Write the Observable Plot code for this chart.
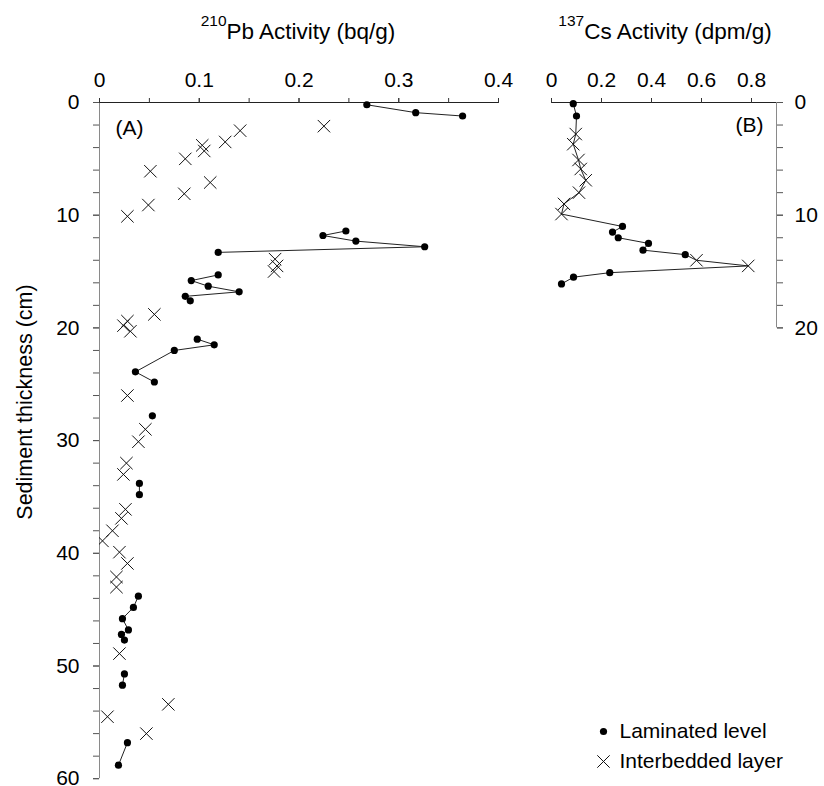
<!DOCTYPE html>
<html>
<head>
<meta charset="utf-8">
<script src="https://cdn.jsdelivr.net/npm/d3@7"></script>
<script src="https://cdn.jsdelivr.net/npm/@observablehq/plot@0.6"></script>
<style>
  html, body { margin: 0; padding: 0; background: white; }
  #wrap { position: relative; width: 824px; height: 786px; background: white;
          font-family: "Liberation Sans", Arial, sans-serif; color: black; overflow: hidden; }
  #wrap > svg { position: absolute; left: 0; top: 0; }
  .ttl { position: absolute; top: 21px; width: 400px; text-align: center; font-size: 22.5px;
         line-height: 22px; white-space: nowrap; }
  .ttl sup { font-size: 15.5px; vertical-align: baseline; position: relative; top: -13px; line-height: 0; }
  #ylab { position: absolute; left: 25px; top: 402px; font-size: 21.5px; line-height: 22px; white-space: nowrap;
          transform: translate(-50%, -50%) rotate(-90deg); }
  #legend { position: absolute; left: 589px; top: 710px; }
</style>
</head>
<body>
<div id="wrap">
  <div class="ttl" style="left:98px"><sup>210</sup>Pb Activity (bq/g)</div>
  <div class="ttl" style="left:465px"><sup>137</sup>Cs Activity (dpm/g)</div>
  <div id="ylab">Sediment thickness (cm)</div>
  <div id="legend"></div>
</div>
<script>
// ---------- Panel A: 210Pb ----------
const pbTicks = [0, 0.1, 0.2, 0.3, 0.4];
const pbMinorTicks = [0, 0.05, 0.1, 0.15, 0.2, 0.25, 0.3, 0.35, 0.4];
const depthLabelsA = [0, 10, 20, 30, 40, 50, 60];

// Laminated levels (dots, connected within each run)
const pbLamDepth = [0.2, 0.9, 1.2, 11.4, 11.8, 12.3, 12.8, 13.3, 15.3, 15.8, 16.3, 16.8, 17.2, 17.6,
                    21.0, 21.5, 22.0, 23.9, 24.8, 27.8, 33.8, 34.8, 43.8, 44.8, 45.8, 46.8, 47.2, 47.7,
                    50.7, 51.7, 56.8, 58.8];
const pbLamValue = [0.268, 0.317, 0.364, 0.247, 0.224, 0.257, 0.326, 0.119, 0.119, 0.092, 0.109, 0.140, 0.086, 0.091,
                    0.098, 0.115, 0.075, 0.036, 0.055, 0.053, 0.040, 0.040, 0.039, 0.034, 0.023, 0.029, 0.022, 0.025,
                    0.025, 0.023, 0.028, 0.019];
const pbLamGroup = [1, 1, 1, 2, 2, 2, 2, 2, 3, 3, 3, 3, 3, 3,
                    4, 4, 4, 4, 4, 5, 6, 6, 7, 7, 7, 7, 7, 7,
                    8, 8, 9, 9];

// Interbedded layers (crosses)
const pbIntDepth = [2.1, 2.5, 3.5, 3.8, 4.3, 5.0, 6.1, 7.1, 8.1, 9.1, 10.1, 13.9, 14.5, 15.0,
                    18.8, 19.4, 19.8, 20.3, 26.0, 29.0, 30.1, 32.0, 33.0, 36.1, 36.9, 38.0, 38.9,
                    39.9, 40.9, 42.1, 43.0, 48.9, 53.4, 54.5, 56.0];
const pbIntValue = [0.225, 0.141, 0.126, 0.103, 0.105, 0.086, 0.051, 0.111, 0.085, 0.049, 0.028, 0.176, 0.178, 0.175,
                    0.055, 0.028, 0.024, 0.031, 0.028, 0.046, 0.039, 0.027, 0.024, 0.026, 0.022, 0.013, 0.003,
                    0.020, 0.028, 0.017, 0.017, 0.020, 0.069, 0.008, 0.047];

// ---------- Panel B: 137Cs ----------
const csTicks = [0, 0.2, 0.4, 0.6, 0.8];
const csXMax = 0.9;
const depthLabelsB = [0, 10, 20];
const csDepth = [0.1, 1.2, 2.8, 3.7, 5.1, 5.9, 6.9, 8.0, 9.0, 9.9, 11.0, 11.5, 12.0, 12.5, 13.1, 13.5, 14.0, 14.5, 15.1, 15.5, 16.1];
const csValue = [0.087, 0.100, 0.097, 0.087, 0.108, 0.117, 0.137, 0.110, 0.050, 0.040, 0.284, 0.244, 0.267, 0.388, 0.366, 0.535, 0.580, 0.787, 0.233, 0.088, 0.040];
const csType  = ["L", "L", "I", "I", "I", "I", "I", "I", "I", "I", "L", "L", "L", "L", "L", "L", "I", "I", "L", "L", "L"];

// ---------- Legend ----------
const legendLabels = ["Laminated level", "Interbedded layer"];

const lam = pbLamDepth.map((d, i) => ({depth: d, value: pbLamValue[i], group: pbLamGroup[i]}));
const inter = pbIntDepth.map((d, i) => ({depth: d, value: pbIntValue[i]}));
const cs = csDepth.map((d, i) => ({depth: d, value: csValue[i], type: csType[i]}));

const font = {fontFamily: "'Liberation Sans', Arial, sans-serif", fontSize: "21px", background: "transparent", overflow: "visible"};
const W = 824, H = 786;
const top0 = 102, pxPerCm = 11.27;

const plotA = Plot.plot({
  width: W, height: H,
  marginLeft: 99, marginRight: W - 498, marginTop: top0, marginBottom: H - (top0 + 60 * pxPerCm),
  style: font,
  x: {domain: [0, 0.4]},
  y: {domain: [0, 60], reverse: true},
  marks: [
    Plot.ruleX([0], {stroke: "#8a8a8a"}),
    Plot.ruleY([0], {stroke: "#222"}),
    Plot.axisX({anchor: "top", ticks: pbMinorTicks, tickSize: 5, tickFormat: () => "", label: null, stroke: "#333"}),
    Plot.axisX({anchor: "top", ticks: pbTicks, tickSize: 5, tickPadding: 11, tickFormat: d => String(d), label: null, stroke: "#333"}),
    Plot.axisY({anchor: "left", ticks: d3.range(0, 61, 2), tickSize: 6, tickFormat: () => "", label: null, stroke: "#555"}),
    Plot.axisY({anchor: "left", ticks: depthLabelsA, tickSize: 6, tickPadding: 14, tickFormat: d => String(d), label: null, stroke: "#555"}),
    Plot.line(lam, {x: "value", y: "depth", z: "group", stroke: "#222", strokeWidth: 1}),
    Plot.dot(lam, {x: "value", y: "depth", r: 3.6, fill: "black"}),
    Plot.dot(inter, {x: "value", y: "depth", symbol: "times", r: 5.7, stroke: "#111", strokeWidth: 1, clip: true}),
    Plot.text(["(A)"], {frameAnchor: "top-left", dx: 16, dy: 26, textAnchor: "start", lineAnchor: "middle", fontSize: 21})
  ]
});

const plotB = Plot.plot({
  width: W, height: H,
  marginLeft: 551, marginRight: W - 776, marginTop: top0, marginBottom: H - (top0 + 20 * pxPerCm),
  style: font,
  x: {domain: [0, csXMax]},
  y: {domain: [0, 20], reverse: true},
  marks: [
    Plot.ruleX([csXMax], {stroke: "#8a8a8a"}),
    Plot.ruleY([0], {stroke: "#222"}),
    Plot.axisX({anchor: "top", ticks: csTicks, tickSize: 5, tickPadding: 11, tickFormat: d => String(d), label: null, stroke: "#333"}),
    Plot.axisY({anchor: "right", ticks: d3.range(0, 21, 2), tickSize: 6, tickFormat: () => "", label: null, stroke: "#555"}),
    Plot.axisY({anchor: "right", ticks: depthLabelsB, tickSize: 6, tickPadding: 12, tickFormat: d => String(d), label: null, stroke: "#555"}),
    Plot.line(cs, {x: "value", y: "depth", stroke: "#222", strokeWidth: 1}),
    Plot.dot(cs.filter(d => d.type === "L"), {x: "value", y: "depth", r: 3.6, fill: "black"}),
    Plot.dot(cs.filter(d => d.type === "I"), {x: "value", y: "depth", symbol: "times", r: 5.7, stroke: "#111", strokeWidth: 1}),
    Plot.text(["(B)"], {frameAnchor: "top-right", dx: -13, dy: 23, textAnchor: "end", lineAnchor: "middle", fontSize: 21})
  ]
});

const legend = Plot.plot({
  width: 235, height: 70, margin: 0,
  style: font,
  y: {type: "point", domain: legendLabels, range: [21, 51], padding: 0, axis: null},
  marks: [
    Plot.dot([legendLabels[0]], {y: d => d, frameAnchor: "left", dx: 14, r: 3.6, fill: "black"}),
    Plot.dot([legendLabels[1]], {y: d => d, frameAnchor: "left", dx: 14, symbol: "times", r: 5.7, stroke: "#111", strokeWidth: 1}),
    Plot.text(legendLabels, {y: d => d, frameAnchor: "left", dx: 30, textAnchor: "start", lineAnchor: "middle", fontSize: 21})
  ]
});

const wrap = document.getElementById("wrap");
wrap.insertBefore(plotA, wrap.firstChild);
wrap.insertBefore(plotB, plotA.nextSibling);
document.getElementById("legend").appendChild(legend);
</script>
</body>
</html>
